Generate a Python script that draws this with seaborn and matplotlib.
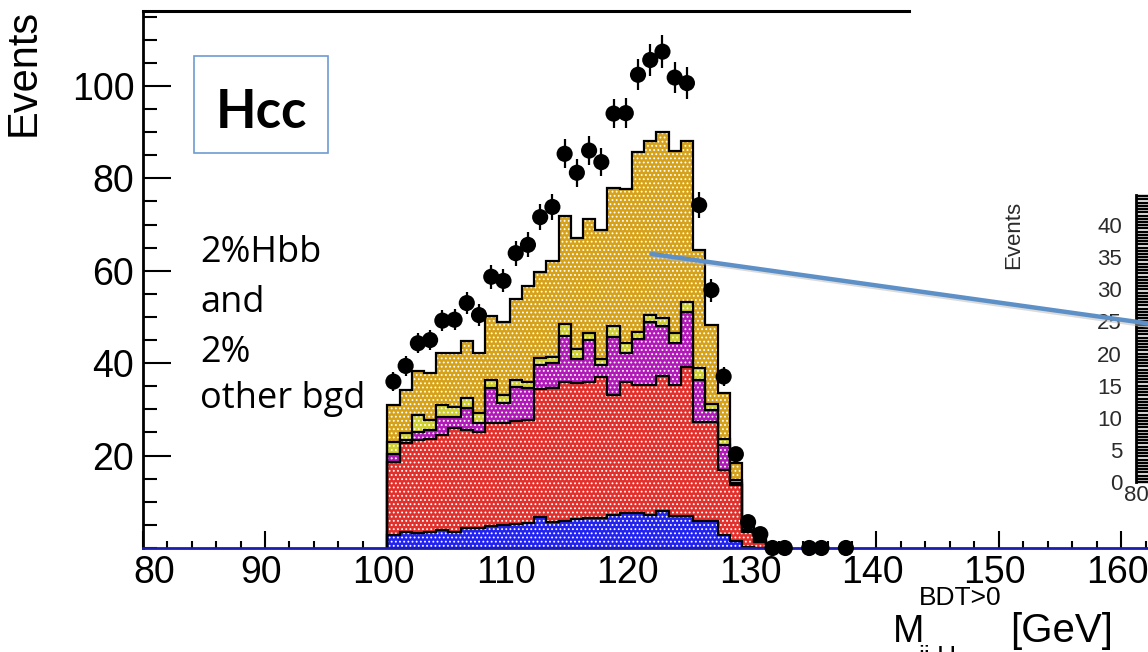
import numpy as np
import pandas as pd
import matplotlib
matplotlib.use("Agg")
import matplotlib.pyplot as plt
import matplotlib.transforms as mtransforms
from matplotlib.lines import Line2D
from matplotlib.patches import Rectangle
from matplotlib.ticker import MultipleLocator
import seaborn as sns

# 1 GeV bins from 100 to 131 GeV
bin_edges = list(range(100, 132))
bin_centres = [b + 0.5 for b in bin_edges[:-1]]

# stacked backgrounds / signal, listed bottom -> top (events per bin)
blue_evts = [2.8, 3.5, 3.2, 3.4, 3.8, 3.5, 4.3, 4.4, 4.8, 5.0, 5.1, 5.5, 6.8, 5.7, 5.9, 6.3,
             6.4, 6.4, 7.1, 7.6, 7.6, 7.1, 8.0, 7.0, 7.0, 5.9, 5.9, 2.8, 1.5, 0.3, 0.0]
red_evts = [15.9, 19.2, 20.2, 20.2, 20.7, 22.4, 21.2, 20.8, 22.2, 22.1, 22.3, 22.2, 27.5, 29.0, 30.0, 29.3,
            29.5, 30.5, 26.0, 28.4, 27.7, 28.2, 29.3, 28.3, 32.1, 21.4, 21.4, 14.1, 12.1, 3.2, 1.4]
magenta_evts = [1.6, 0.6, 1.8, 1.9, 3.9, 2.5, 4.7, 1.8, 7.6, 4.2, 7.5, 6.9, 5.3, 5.3, 10.0, 5.4,
                9.1, 2.7, 12.5, 6.1, 9.9, 13.7, 10.7, 9.0, 11.9, 9.1, 2.6, 5.4, 0.5, 0.1, 0.0]
yellow_evts = [2.7, 1.5, 3.6, 2.2, 2.6, 2.2, 2.2, 2.2, 1.8, 1.7, 1.5, 1.3, 1.5, 1.4, 2.6, 2.1,
               1.6, 1.2, 2.5, 2.3, 1.6, 1.4, 1.7, 2.2, 2.3, 2.5, 1.3, 1.2, 0.7, 0.2, 0.1]
gold_evts = [8.0, 9.4, 9.4, 10.1, 11.1, 11.5, 12.5, 12.9, 13.7, 16.0, 17.4, 20.7, 18.7, 20.6, 23.4, 23.9,
             24.5, 28.0, 29.9, 33.2, 38.8, 37.6, 40.4, 39.3, 34.7, 25.5, 17.1, 10.0, 3.7, 1.2, 1.2]

# pseudo-data points
data_mass = [100.5, 101.5, 102.5, 103.5, 104.5, 105.5, 106.5, 107.5, 108.5, 109.5, 110.5, 111.5,
             112.5, 113.5, 114.5, 115.5, 116.5, 117.5, 118.5, 119.5, 120.5, 121.5, 122.5, 123.5,
             124.5, 125.5, 126.5, 127.5, 128.5, 129.5, 130.5, 131.5, 132.5, 134.5, 135.5, 137.5]
data_events = [36.0, 39.4, 44.3, 45.0, 49.2, 49.4, 53.0, 50.4, 58.7, 57.8, 63.8, 65.6,
               71.6, 73.8, 85.3, 81.2, 86.0, 83.5, 94.0, 94.1, 102.4, 105.6, 107.4, 101.8,
               100.6, 74.2, 55.8, 37.1, 20.3, 5.6, 3.0, 0, 0, 0, 0, 0]
data_err = [2.0, 2.1, 2.2, 2.2, 2.3, 2.3, 2.4, 2.4, 2.6, 2.5, 2.7, 2.7,
            2.8, 2.9, 3.1, 3.0, 3.1, 3.0, 3.2, 3.2, 3.4, 3.4, 3.5, 3.4,
            3.4, 2.9, 2.5, 2.0, 1.5, 0.8, 0.6, 0, 0, 0, 0, 0]

x_ticks = [80, 90, 100, 110, 120, 130, 140, 150, 160]
y_ticks = [20, 40, 60, 80, 100]
inset_ticks = [0, 5, 10, 15, 20, 25, 30, 35, 40]

layer_colors = ['#2323ee', '#e2312d', '#b11ab8', '#cfcf30', '#d6a21a']

sns.set_style("white")
plt.rcParams['font.family'] = ['Liberation Sans', 'DejaVu Sans']
plt.rcParams['text.color'] = 'black'
plt.rcParams['hatch.linewidth'] = 0.8

W, H = 1148, 652
fig = plt.figure(figsize=(W / 100, H / 100), dpi=100)


def fx(px):
    return px / W


def fy(py):
    return 1 - py / H


ax = fig.add_axes([fx(142.7), fy(548), fx(1148 - 142.7), (548 - 11) / H])

hist_df = pd.DataFrame({
    'mass': bin_centres,
    'blue': blue_evts, 'red': red_evts, 'magenta': magenta_evts,
    'yellow': yellow_evts, 'gold': gold_evts,
})
layers = ['blue', 'red', 'magenta', 'yellow', 'gold']
tops = hist_df[layers].cumsum(axis=1)
for name in layers:
    hist_df['top_' + name] = tops[name]

# draw like a THStack: biggest cumulative first, then overlay the lower ones
for name, col in reversed(list(zip(layers, layer_colors))):
    sns.histplot(data=hist_df, x='mass', weights='top_' + name, bins=bin_edges, element='step',
                 fill=True, color=col, alpha=1, edgecolor='white', linewidth=0,
                 hatch='....', ax=ax, legend=False)
    ax.stairs(hist_df['top_' + name].values, bin_edges, baseline=0, color='black', lw=1.6, zorder=2)

# data with error bars
ax.errorbar(data_mass, data_events, yerr=data_err, fmt='none', ecolor='black',
            elinewidth=1.6, capsize=0, zorder=4, clip_on=False)
sns.scatterplot(x=data_mass, y=data_events, color='black', s=135, edgecolor='none',
                ax=ax, zorder=5, clip_on=False)

ax.set_xlim(80, 162.2)
ax.set_ylim(0, 116.2)
ax.set_xlabel('')
ax.set_ylabel('')
ax.set_xticks(x_ticks)
ax.set_yticks(y_ticks)
ax.xaxis.set_minor_locator(MultipleLocator(2))
ax.yaxis.set_minor_locator(MultipleLocator(5))
ax.set_axisbelow(True)
ax.tick_params(axis='both', which='both', direction='in', width=1.5, colors='black',
               labelsize=27, left=True, bottom=True, right=False, top=False)
ax.tick_params(axis='y', which='major', length=20, pad=6)
ax.tick_params(axis='y', which='minor', length=10)
ax.tick_params(axis='x', which='major', length=12, pad=5)
ax.tick_params(axis='x', which='minor', length=5)

# ROOT puts the x labels a few pixels left of the ticks (the first one nudged right)
for val, lab in zip(x_ticks, ax.get_xticklabels()):
    dx = 12 if val == 80 else -4
    lab.set_transform(lab.get_transform() + mtransforms.ScaledTranslation(dx / 100, 0, fig.dpi_scale_trans))

ax.spines['right'].set_visible(False)
ax.spines['left'].set_linewidth(2)
ax.spines['left'].set_color('black')
ax.spines['bottom'].set_linewidth(2)
ax.spines['bottom'].set_color('#1c1cae')
ax.spines['top'].set_linewidth(2.2)
ax.spines['top'].set_color('black')
ax.spines['top'].set_bounds(80, 142.66)

# axis titles placed like the ROOT canvas (TLatex-style pieces)
fig.text(fx(24), fy(9), 'Events', rotation=90, ha='center', va='top', fontsize=30)
fig.text(fx(893), fy(642), 'M', ha='left', va='baseline', fontsize=27)
fig.text(fx(919), fy(605), 'BDT>0', ha='left', va='baseline', fontsize=19)
fig.text(fx(919), fy(664), 'jj,H', ha='left', va='baseline', fontsize=19)
fig.text(fx(1113), fy(642), '[GeV]', ha='right', va='baseline', fontsize=29)

# annotations
fig.add_artist(Rectangle((fx(194), fy(152.7)), fx(133.7), 97 / H, transform=fig.transFigure,
                         fill=False, edgecolor='#6d9bd1', linewidth=1.2))
fig.text(fx(261.5), fy(128.3), 'Hcc', ha='center', va='baseline', fontsize=38,
         fontweight='bold', family=['Lato', 'DejaVu Sans'])
note_lines = ['2%Hbb', 'and', '2%', 'other bgd']
note_base = [261.7, 311.7, 361.7, 408.3]
for txt, yb in zip(note_lines, note_base):
    fig.text(fx(200), fy(yb), txt, ha='left', va='baseline', fontsize=26,
             family=['Open Sans', 'DejaVu Sans'])

# cropped second plot on the right
ax2 = fig.add_axes([fx(1136), fy(482), 0.05, (482 - 195) / H])
ax2.set_ylim(0, 44.7)
ax2.set_xlim(80, 100)
ax2.set_yticks(inset_ticks)
ax2.set_xticks([80])
ax2.yaxis.set_minor_locator(MultipleLocator(0.5))
for side in ['top', 'right', 'bottom']:
    ax2.spines[side].set_visible(False)
ax2.spines['left'].set_linewidth(2)
ax2.spines['left'].set_color('black')
ax2.tick_params(axis='y', which='both', direction='in', length=14, width=1.7,
                colors='black', labelcolor='#2b2b2b', labelsize=16, pad=10, left=True)
ax2.tick_params(axis='x', length=0, labelsize=16, labelcolor='#2b2b2b', pad=2, bottom=True)
fig.text(fx(1013.5), fy(201), 'Events', rotation=90, ha='center', va='top',
         fontsize=16, color='#2b2b2b')

# pointer line from the stack to the inset
fig.add_artist(Line2D([fx(653), fx(1150)], [fy(256), fy(326)], transform=fig.transFigure,
                      color='#b8b8b8', lw=3, alpha=0.5))
fig.add_artist(Line2D([fx(651.7), fx(1150)], [fy(254), fy(323.7)], transform=fig.transFigure,
                      color='#5e90c8', lw=3.2))

fig.savefig('out.png', dpi=100)
